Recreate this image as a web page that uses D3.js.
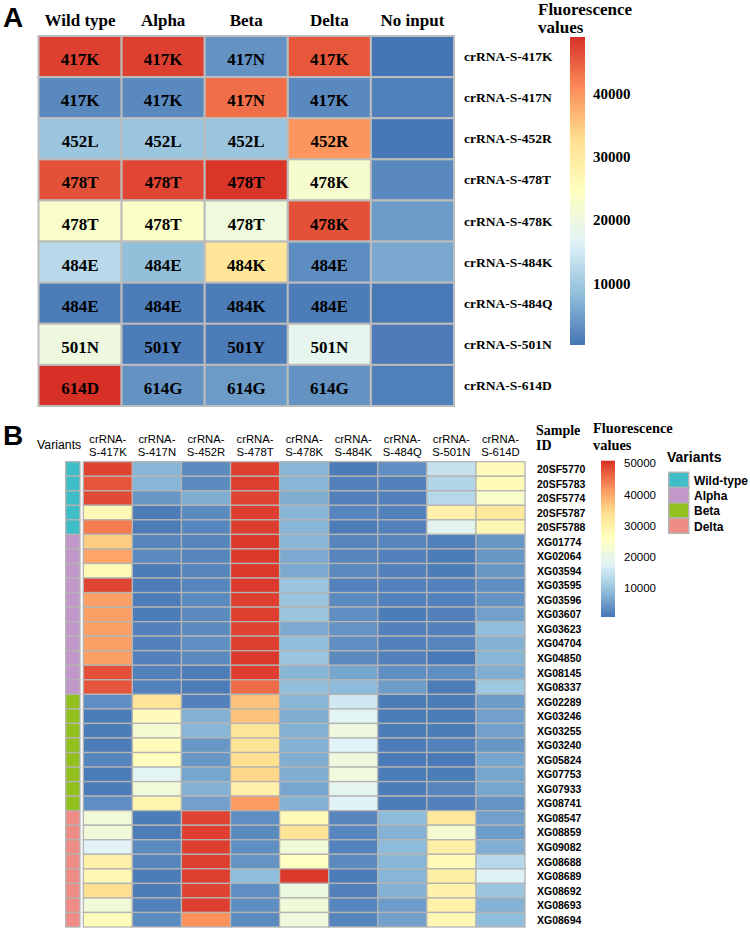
<!DOCTYPE html>
<html>
<head>
<meta charset="utf-8">
<script src="https://cdn.jsdelivr.net/npm/d3@7"></script>
<style>
  html, body { margin: 0; padding: 0; background: #fff; }
  svg { display: block; }
  .serif { font-family: "Liberation Serif", "Times New Roman", serif; font-weight: bold; }
  .sans { font-family: "Liberation Sans", Arial, sans-serif; }
</style>
</head>
<body>
<svg id="chart" width="750" height="930"></svg>
<script>
// ---------------- Panel A data ----------------
const aColumns = ["Wild type", "Alpha", "Beta", "Delta", "No input"];
const aRows = ["crRNA-S-417K", "crRNA-S-417N", "crRNA-S-452R", "crRNA-S-478T", "crRNA-S-478K",
               "crRNA-S-484K", "crRNA-S-484Q", "crRNA-S-501N", "crRNA-S-614D"];
const aCellText = [
  ["417K", "417K", "417N", "417K", ""],
  ["417K", "417K", "417N", "417K", ""],
  ["452L", "452L", "452L", "452R", ""],
  ["478T", "478T", "478T", "478K", ""],
  ["478T", "478T", "478T", "478K", ""],
  ["484E", "484E", "484K", "484E", ""],
  ["484E", "484E", "484K", "484E", ""],
  ["501N", "501Y", "501Y", "501N", ""],
  ["614D", "614G", "614G", "614G", ""]
];
const aValues = [
  [47500, 47500, 3500, 45500, 300],
  [2500, 2500, 43500, 2500, 1500],
  [9500, 9500, 9500, 40000, 500],
  [46000, 47000, 48500, 22500, 2500],
  [23000, 23500, 20500, 46000, 4500],
  [12500, 8500, 31500, 3000, 5800],
  [1200, 1200, 1200, 1200, 600],
  [20000, 1200, 1200, 18000, 1000],
  [48900, 3500, 4500, 3500, 1500]
];
const aRange = [300, 48900];
const aTicks = [10000, 20000, 30000, 40000];

// ---------------- Panel B data ----------------
const bColumns = ["crRNA-S-417K", "crRNA-S-417N", "crRNA-S-452R", "crRNA-S-478T", "crRNA-S-478K",
                  "crRNA-S-484K", "crRNA-S-484Q", "crRNA-S-501N", "crRNA-S-614D"];
const bSamples = ["20SF5770", "20SF5783", "20SF5774", "20SF5787", "20SF5788",
  "XG01774", "XG02064", "XG03594", "XG03595", "XG03596", "XG03607", "XG03623", "XG04704", "XG04850", "XG08145", "XG08337",
  "XG02289", "XG03246", "XG03255", "XG03240", "XG05824", "XG07753", "XG07933", "XG08741",
  "XG08547", "XG08859", "XG09082", "XG08688", "XG08689", "XG08692", "XG08693", "XG08694"];
const bSampleVariant = ["Wild-type", "Wild-type", "Wild-type", "Wild-type", "Wild-type",
  "Alpha", "Alpha", "Alpha", "Alpha", "Alpha", "Alpha", "Alpha", "Alpha", "Alpha", "Alpha", "Alpha",
  "Beta", "Beta", "Beta", "Beta", "Beta", "Beta", "Beta", "Beta",
  "Delta", "Delta", "Delta", "Delta", "Delta", "Delta", "Delta", "Delta"];
const bValues = [
  [49000, 8000, 3000, 49500, 8000, 1500, 3500, 14500, 26500],
  [47500, 8000, 3000, 49500, 8000, 2000, 2000, 12500, 27000],
  [48500, 4500, 7000, 49000, 7000, 2000, 2000, 13000, 24000],
  [27500, 1500, 3000, 49500, 8000, 2500, 2000, 29500, 32000],
  [44000, 1500, 2500, 49500, 8000, 1500, 2000, 18500, 27500],
  [36000, 2500, 2500, 50000, 8000, 2500, 2500, 1800, 4500],
  [40000, 3000, 2500, 50000, 6500, 2500, 2000, 1500, 4500],
  [27000, 1500, 2500, 50000, 6500, 3000, 2000, 1500, 4500],
  [49000, 1500, 2500, 50000, 10000, 2000, 2000, 2000, 3500],
  [40500, 1500, 3000, 49500, 10000, 3000, 2000, 2000, 4000],
  [40500, 1500, 3000, 49500, 10000, 3500, 1500, 2000, 5500],
  [40500, 2000, 3000, 49000, 6500, 4000, 2000, 2000, 9000],
  [40500, 2000, 3500, 49500, 9000, 3500, 2000, 2500, 7500],
  [40500, 2000, 3000, 50000, 10000, 3000, 2000, 1000, 8000],
  [48000, 2000, 1500, 49500, 8000, 6000, 3500, 3500, 7000],
  [47500, 2000, 1500, 45500, 9000, 8500, 5000, 1500, 10500],
  [3500, 33000, 2000, 37000, 8000, 15500, 1500, 1500, 5000],
  [1500, 26500, 7500, 37000, 7000, 18000, 1500, 1500, 5500],
  [1500, 23000, 8000, 32500, 7500, 21000, 1500, 1500, 5500],
  [1500, 26500, 4500, 33000, 7500, 17500, 1500, 2000, 4500],
  [2500, 26000, 4500, 34000, 7000, 21000, 1000, 1000, 6000],
  [1500, 18000, 6000, 35000, 7000, 21500, 1500, 1500, 6000],
  [1500, 22000, 7500, 29500, 6000, 18500, 1500, 2500, 6000],
  [3500, 28500, 5500, 41000, 7500, 17500, 1500, 2000, 4000],
  [22000, 1500, 49000, 3500, 27000, 2500, 8500, 32000, 5500],
  [22000, 1500, 49500, 3000, 33000, 2500, 7500, 23000, 5000],
  [17500, 3000, 49500, 3500, 22000, 2000, 8500, 30000, 7000],
  [29500, 2500, 49500, 4000, 25500, 3000, 8000, 27000, 13000],
  [27500, 1500, 49500, 9000, 50000, 1500, 8000, 30000, 17000],
  [34000, 1500, 49000, 3500, 20500, 2000, 7500, 29000, 10000],
  [22000, 2000, 49500, 3500, 22000, 2500, 5000, 29500, 7500],
  [26500, 3000, 42000, 3000, 21500, 2500, 5500, 27500, 9000]
];
const bRange = [600, 50800];
const bTicks = [10000, 20000, 30000, 40000, 50000];
const variantNames = ["Wild-type", "Alpha", "Beta", "Delta"];
const variantColors = ["#3fbec8", "#c198c9", "#92c01f", "#f08c86"];

// ---------------- helpers ----------------
const palette = ["#4575B4", "#91BFDB", "#E0F3F8", "#FFFFBF", "#FEE090", "#FC8D59", "#D73027"];
function makeColor(range) {
  const [lo, hi] = range;
  return d3.scaleLinear()
    .domain(palette.map((_, i) => lo + i * (hi - lo) / (palette.length - 1)))
    .range(palette)
    .interpolate(d3.interpolateRgb)
    .clamp(true);
}
const svg = d3.select("#chart");
const defs = svg.append("defs");
function gradient(id) {
  const g = defs.append("linearGradient").attr("id", id)
    .attr("x1", 0).attr("y1", 1).attr("x2", 0).attr("y2", 0);
  palette.forEach((c, i) => g.append("stop").attr("offset", i / (palette.length - 1)).attr("stop-color", c));
}
gradient("gradA");
gradient("gradB");

// ================= PANEL A =================
const colorA = makeColor(aRange);
const xA = d3.scaleBand().domain(aColumns).range([38.5, 454]);
const yA = d3.scaleBand().domain(aRows).range([36, 406]);
const gA = svg.append("g");

svg.append("text").attr("class", "sans").attr("x", 3).attr("y", 27)
  .attr("font-size", 28).attr("font-weight", "bold").text("A");

gA.selectAll("text.colhead").data(aColumns).join("text")
  .attr("class", "serif colhead")
  .attr("x", d => xA(d) + xA.bandwidth() / 2).attr("y", 26)
  .attr("text-anchor", "middle").attr("font-size", 17).text(d => d);

const aCells = [];
aRows.forEach((r, i) => aColumns.forEach((c, j) =>
  aCells.push({ r, c, v: aValues[i][j], t: aCellText[i][j] })));

gA.selectAll("rect.cell").data(aCells).join("rect")
  .attr("class", "cell")
  .attr("x", d => xA(d.c)).attr("y", d => yA(d.r))
  .attr("width", xA.bandwidth()).attr("height", yA.bandwidth())
  .attr("fill", d => colorA(d.v))
  .attr("stroke", "#bcbcbc").attr("stroke-width", 2);

gA.selectAll("text.celltxt").data(aCells.filter(d => d.t)).join("text")
  .attr("class", "serif celltxt")
  .attr("x", d => xA(d.c) + xA.bandwidth() / 2)
  .attr("y", d => yA(d.r) + yA.bandwidth() / 2 + 3)
  .attr("dominant-baseline", "central")
  .attr("text-anchor", "middle").attr("font-size", 17).text(d => d.t);

gA.selectAll("text.rowlab").data(aRows).join("text")
  .attr("class", "serif rowlab")
  .attr("x", 464).attr("y", d => yA(d) + yA.bandwidth() / 2)
  .attr("dominant-baseline", "central")
  .attr("font-size", 13.5).text(d => d);

// legend A
svg.append("text").attr("class", "serif").attr("x", 538).attr("y", 15).attr("font-size", 17).text("Fluorescence");
svg.append("text").attr("class", "serif").attr("x", 538).attr("y", 33).attr("font-size", 17).text("values");
const lyA = d3.scaleLinear().domain(aRange).range([345, 37]);
svg.append("rect").attr("x", 570).attr("y", lyA(aRange[1])).attr("width", 15)
  .attr("height", lyA(aRange[0]) - lyA(aRange[1])).attr("fill", "url(#gradA)");
const axA = svg.append("g").attr("transform", "translate(585,0)")
  .call(d3.axisRight(lyA).tickValues(aTicks).tickSize(0).tickPadding(8).tickFormat(d3.format("d")));
axA.select(".domain").remove();
axA.selectAll("text").attr("class", "serif").attr("font-size", 15).attr("fill", "#000")
  .style("font-family", "'Liberation Serif', 'Times New Roman', serif").style("font-weight", "bold");

// ================= PANEL B =================
const colorB = makeColor(bRange);
const xB = d3.scaleBand().domain(bColumns).range([83.3, 525]);
const yB = d3.scaleBand().domain(bSamples).range([461.7, 927]);
const vColor = d3.scaleOrdinal().domain(variantNames).range(variantColors);
const gB = svg.append("g");

svg.append("text").attr("class", "sans").attr("x", 3).attr("y", 445)
  .attr("font-size", 28).attr("font-weight", "bold").text("B");

svg.append("text").attr("class", "sans").attr("x", 37).attr("y", 449)
  .attr("font-size", 12.3).text("Variants");

// column headers (two lines)
const hdr = gB.selectAll("text.bhead").data(bColumns).join("text")
  .attr("class", "sans bhead").attr("text-anchor", "middle").attr("font-size", 11.3)
  .attr("x", d => xB(d) + xB.bandwidth() / 2);
hdr.append("tspan").attr("x", d => xB(d) + xB.bandwidth() / 2).attr("y", 442.5).text("crRNA-");
hdr.append("tspan").attr("x", d => xB(d) + xB.bandwidth() / 2).attr("y", 455.5).text(d => d.replace("crRNA-", ""));

// annotation column
gB.selectAll("rect.ann").data(bSamples).join("rect")
  .attr("class", "ann")
  .attr("x", 65.7).attr("y", d => yB(d)).attr("width", 14.3).attr("height", yB.bandwidth())
  .attr("fill", (d, i) => vColor(bSampleVariant[i]))
  .attr("stroke", "#b4b4b4").attr("stroke-width", 1.3);

const bCells = [];
bSamples.forEach((s, i) => bColumns.forEach((c, j) => bCells.push({ s, c, v: bValues[i][j] })));
gB.selectAll("rect.bcell").data(bCells).join("rect")
  .attr("class", "bcell")
  .attr("x", d => xB(d.c)).attr("y", d => yB(d.s))
  .attr("width", xB.bandwidth()).attr("height", yB.bandwidth())
  .attr("fill", d => colorB(d.v))
  .attr("stroke", "#b4b4b4").attr("stroke-width", 1.3);

gB.selectAll("text.samp").data(bSamples).join("text")
  .attr("class", "sans samp").attr("font-weight", "bold").attr("font-size", 10.5)
  .attr("x", 537).attr("y", d => yB(d) + yB.bandwidth() / 2)
  .attr("dominant-baseline", "central").text(d => d);

svg.append("text").attr("class", "serif").attr("x", 536).attr("y", 435).attr("font-size", 14).text("Sample");
svg.append("text").attr("class", "serif").attr("x", 536).attr("y", 450).attr("font-size", 14).text("ID");

// legend B colorbar
svg.append("text").attr("class", "serif").attr("x", 593).attr("y", 433).attr("font-size", 14.4).text("Fluorescence");
svg.append("text").attr("class", "serif").attr("x", 593).attr("y", 450).attr("font-size", 14.4).text("values");
const lyB = d3.scaleLinear().domain(bRange).range([617, 460.7]);
svg.append("rect").attr("x", 601).attr("y", lyB(bRange[1])).attr("width", 14)
  .attr("height", lyB(bRange[0]) - lyB(bRange[1])).attr("fill", "url(#gradB)");
const axB = svg.append("g").attr("transform", "translate(615,0)")
  .call(d3.axisRight(lyB).tickValues(bTicks).tickSize(0).tickPadding(9).tickFormat(d3.format("d")));
axB.select(".domain").remove();
axB.selectAll("text").attr("font-size", 11.5).attr("fill", "#000")
  .style("font-family", "'Liberation Sans', Arial, sans-serif");

// legend B variants
svg.append("text").attr("class", "sans").attr("x", 667).attr("y", 461.5)
  .attr("font-size", 14).attr("font-weight", "bold").text("Variants");
const lv = d3.scaleBand().domain(variantNames).range([472.3, 533.3]);
svg.selectAll("rect.vleg").data(variantNames).join("rect")
  .attr("class", "vleg")
  .attr("x", 668.7).attr("y", d => lv(d)).attr("width", 20).attr("height", lv.bandwidth())
  .attr("fill", d => vColor(d)).attr("stroke", "#b4b4b4").attr("stroke-width", 1.5);
svg.selectAll("text.vlab").data(variantNames).join("text")
  .attr("class", "sans vlab").attr("font-weight", "bold").attr("font-size", 12)
  .attr("x", 694).attr("y", d => lv(d) + lv.bandwidth() / 2 + 1)
  .attr("dominant-baseline", "central").text(d => d);
</script>
</body>
</html>
